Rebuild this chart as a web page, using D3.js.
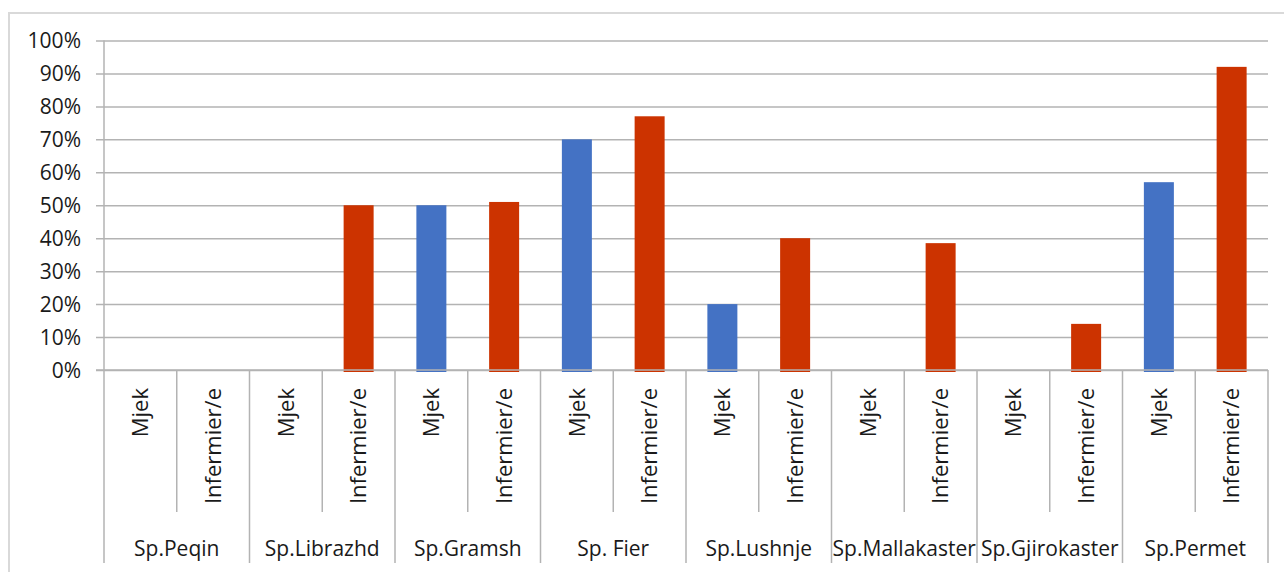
<!DOCTYPE html>
<html>
<head>
<meta charset="utf-8">
<script src="https://cdn.jsdelivr.net/npm/d3@7"></script>
<style>
  body { margin: 0; background: white; }
  text { font-family: "Open Sans", "Noto Sans", sans-serif; fill: #1a1a1a; }
</style>
</head>
<body>
<div id="chart"></div>
<script>
'use strict';

const groups = ['Sp.Peqin', 'Sp.Librazhd', 'Sp.Gramsh', 'Sp. Fier',
                'Sp.Lushnje', 'Sp.Mallakaster', 'Sp.Gjirokaster', 'Sp.Permet'];
const roles = ['Mjek', 'Infermier/e'];
const mjekValues = [0, 0, 50, 70, 20, 0, 0, 57];
const infermierValues = [0, 50, 51, 77, 40, 38.5, 14, 92];
const yTicks = [0, 10, 20, 30, 40, 50, 60, 70, 80, 90, 100];

const roleColors = {'Mjek': '#4472C4', 'Infermier/e': '#CC3300'};

// flatten into one row per bar
const rows = [];
groups.forEach((g, i) => {
  rows.push({group: g, role: roles[0], value: mjekValues[i], id: g + '|' + roles[0]});
  rows.push({group: g, role: roles[1], value: infermierValues[i], id: g + '|' + roles[1]});
});

const svgWidth = 1284, svgHeight = 572;
const plot = {left: 104, right: 1268, top: 40.5, bottom: 370};

const svg = d3.select('#chart')
              .append('svg')
                .attr('width', svgWidth)
                .attr('height', svgHeight);

// outer chart border
svg.append('rect')
   .attr('x', 9).attr('y', 13)
   .attr('width', svgWidth).attr('height', svgHeight)
   .attr('fill', 'none')
   .attr('stroke', '#D9D9D9').attr('stroke-width', 2);

const x = d3.scaleBand()
            .domain(rows.map(d => d.id))
            .range([plot.left, plot.right]);
const xGroup = d3.scaleBand()
                 .domain(groups)
                 .range([plot.left, plot.right]);
const y = d3.scaleLinear()
            .domain([0, 100])
            .range([plot.bottom, plot.top]);

// gridlines + y labels
const yAxis = d3.axisLeft(y)
                .tickValues(yTicks)
                .tickSize(-(plot.right - plot.left))
                .tickFormat(d => d + '%');
const yG = svg.append('g')
              .attr('transform', 'translate(' + plot.left + ',0)')
              .call(yAxis);
yG.select('.domain').remove();
yG.selectAll('.tick line')
  .attr('x1', -8)
  .attr('stroke', '#B3B3B3').attr('stroke-width', 1.5);
yG.selectAll('.tick text')
  .attr('x', -23)
  .attr('dy', '0.35em')
  .style('font-size', '21px')
  .style('font-family', '"Open Sans", sans-serif')
  .attr('fill', '#1a1a1a');

// y axis line
svg.append('line')
   .attr('x1', plot.left).attr('x2', plot.left)
   .attr('y1', plot.top).attr('y2', plot.bottom)
   .attr('stroke', '#B3B3B3').attr('stroke-width', 1.5);

// bars
svg.append('g').selectAll('rect')
   .data(rows)
   .enter().append('rect')
     .attr('x', d => x(d.id) + x.bandwidth() / 2 - 15)
     .attr('width', 30)
     .attr('y', d => y(d.value))
     .attr('height', d => d.value > 0 ? y(0) - y(d.value) + 2 : 0)
     .attr('fill', d => roleColors[d.role]);

// category separators below axis
const minorBottom = 512, majorBottom = 563;
const sepData = rows.map((d, i) => ({
  xPos: x(d.id),
  major: i % 2 === 0,
})).concat([{xPos: plot.right, major: true}]);
svg.append('g').selectAll('line')
   .data(sepData)
   .enter().append('line')
     .attr('x1', d => d.xPos).attr('x2', d => d.xPos)
     .attr('y1', plot.bottom)
     .attr('y2', d => d.major ? majorBottom : minorBottom)
     .attr('stroke', '#B3B3B3').attr('stroke-width', 1.5);

// baseline
svg.append('line')
   .attr('x1', plot.left - 8).attr('x2', plot.right)
   .attr('y1', plot.bottom).attr('y2', plot.bottom)
   .attr('stroke', '#B3B3B3').attr('stroke-width', 1.5);

// rotated role labels
svg.append('g').selectAll('text')
   .data(rows)
   .enter().append('text')
     .attr('transform', d => 'translate(' + (x(d.id) + x.bandwidth() / 2) + ',388) rotate(-90)')
     .attr('text-anchor', 'end')
     .attr('dy', '0.35em')
     .style('font-size', '22px')
     .text(d => d.role);

// group labels
svg.append('g').selectAll('text')
   .data(groups)
   .enter().append('text')
     .attr('x', d => xGroup(d) + xGroup.bandwidth() / 2)
     .attr('y', 556)
     .attr('text-anchor', 'middle')
     .style('font-size', '21px')
     .text(d => d);
</script>
</body>
</html>
